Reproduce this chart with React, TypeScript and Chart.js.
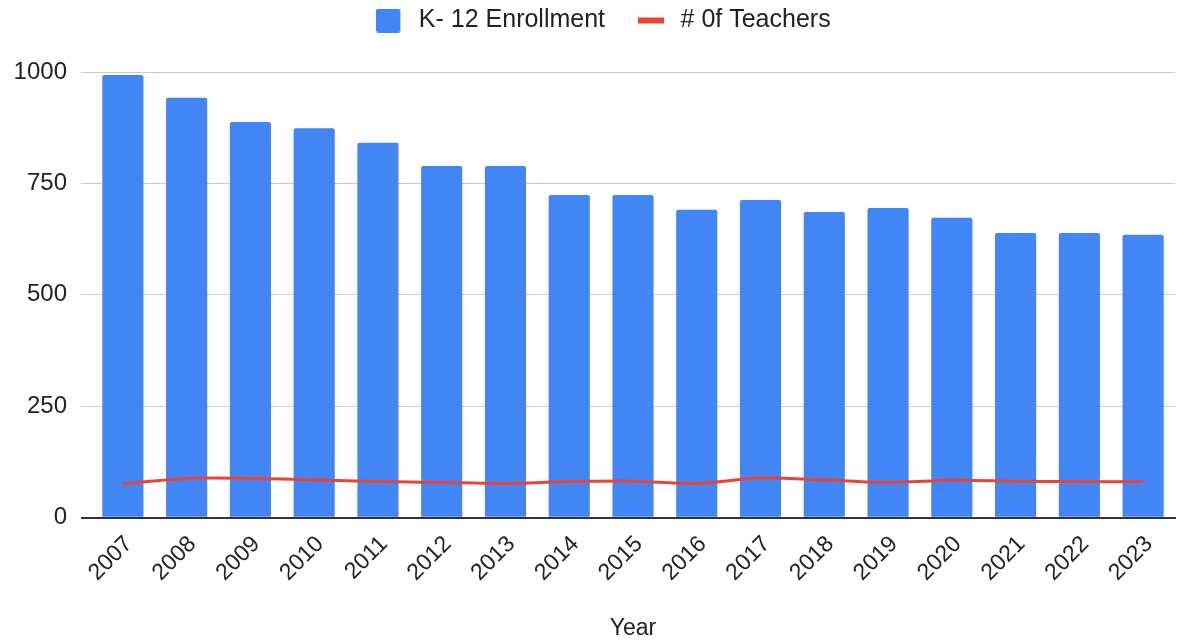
import React, { useEffect, useRef } from "react";
import { Chart, registerables } from "chart.js";

Chart.register(...registerables);

const years = ["2007","2008","2009","2010","2011","2012","2013","2014","2015","2016","2017","2018","2019","2020","2021","2022","2023"];
const enrollment = [993, 942, 888, 874, 841, 789, 789, 724, 724, 691, 713, 686, 695, 673, 639, 639, 635];
const teachers = [76, 88, 88, 85, 81, 79, 77, 81, 82, 77, 89, 85, 79, 84, 82, 81, 81];
const yTicks = [0, 250, 500, 750, 1000];

const FONT = "'Liberation Sans', Arial, sans-serif";
const TEXT = "#222222";
const BLUE = "#4285F4";
const RED = "#EA4335";

function makeMarker(kind: "rect" | "line"): HTMLCanvasElement {
  const c = document.createElement("canvas");
  c.width = 30;
  c.height = 24;
  const g = c.getContext("2d")!;
  if (kind === "rect") {
    g.fillStyle = BLUE;
    g.beginPath();
    (g as any).roundRect ? (g as any).roundRect(0, 0, 24, 24, 2) : g.rect(0, 0, 24, 24);
    g.fill();
  } else {
    g.fillStyle = RED;
    g.fillRect(0, 9, 26, 6);
  }
  return c;
}

const legendSpacer = {
  id: "legendSpacer",
  beforeInit(chart: any) {
    const orig = chart.legend.fit;
    chart.legend.fit = function () {
      orig.bind(chart.legend)();
      this.height += 29;
    };
  },
  afterLayout(chart: any) {
    if (chart.legend) {
      chart.legend.left += 16;
      chart.legend.right += 16;
    }
  },
};

export default function App() {
  const ref = useRef<HTMLCanvasElement | null>(null);
  useEffect(() => {
    if (!ref.current) return;
    const rectMarker = makeMarker("rect");
    const lineMarker = makeMarker("line");
    const chart = new Chart(ref.current, {
      type: "bar",
      data: {
        labels: years,
        datasets: [
          {
            type: "bar",
            label: "K- 12 Enrollment",
            data: enrollment,
            backgroundColor: BLUE,
            borderWidth: 0,
            borderRadius: 2,
            barPercentage: 0.645,
            categoryPercentage: 1,
            order: 1,
          } as any,
          {
            type: "line",
            label: "# 0f Teachers",
            data: teachers,
            borderColor: RED,
            backgroundColor: RED,
            borderWidth: 3,
            pointRadius: 0,
            tension: 0.3,
            order: 0,
          } as any,
        ],
      },
      plugins: [legendSpacer],
      options: {
        animation: false,
        responsive: true,
        maintainAspectRatio: false,
        layout: { padding: { left: 0, right: 11, top: -25, bottom: 0 } },
        plugins: {
          tooltip: { enabled: false },
          legend: {
            position: "top",
            align: "center",
            labels: {
              usePointStyle: true,
              pointStyleWidth: 30,
              boxHeight: 24,
              padding: 33,
              color: TEXT,
              font: { family: FONT, size: 25 },
              sort: (a: any, b: any) => a.datasetIndex - b.datasetIndex,
              generateLabels: (c: any) => {
                const items = Chart.defaults.plugins.legend.labels.generateLabels(c);
                items.forEach((it: any) => {
                  it.lineWidth = 0;
                  it.pointStyle = it.datasetIndex === 1 ? lineMarker : rectMarker;
                });
                return items;
              },
            },
          },
        },
        scales: {
          x: {
            grid: { display: false, drawTicks: false },
            border: { display: true, color: "#333333", width: 2 },
            afterFit: (scale: any) => {
              scale.paddingLeft = 0;
              scale.paddingRight = 0;
            },
            ticks: {
              color: TEXT,
              font: { family: FONT, size: 23 },
              minRotation: 45,
              maxRotation: 45,
              padding: 13,
              labelOffset: 6,
            },
            title: {
              display: true,
              text: "Year",
              color: TEXT,
              font: { family: FONT, size: 23 },
              padding: { top: 15, bottom: 0 },
            },
          },
          y: {
            min: 0,
            max: 1000,
            afterBuildTicks: (axis: any) => {
              axis.ticks = yTicks.map((v) => ({ value: v }));
            },
            afterFit: (scale: any) => {
              scale.width = 91;
            },
            grid: {
              color: (ctx: any) => (ctx.tick && ctx.tick.value === 0 ? "#333333" : "#cccccc"),
              lineWidth: (ctx: any) => (ctx.tick && ctx.tick.value === 0 ? 2 : 1),
              tickLength: 10,
              drawTicks: true,
            },
            border: { display: false },
            ticks: {
              color: TEXT,
              font: { family: FONT, size: 24 },
              padding: 14,
              callback: (v: any) => String(v),
            },
          },
        },
      },
    });
    return () => chart.destroy();
  }, []);
  return (
    <div style={{ position: "absolute", left: 0, top: 0, width: 1186, height: 642, background: "#fff" }}>
      <canvas ref={ref} />
    </div>
  );
}
